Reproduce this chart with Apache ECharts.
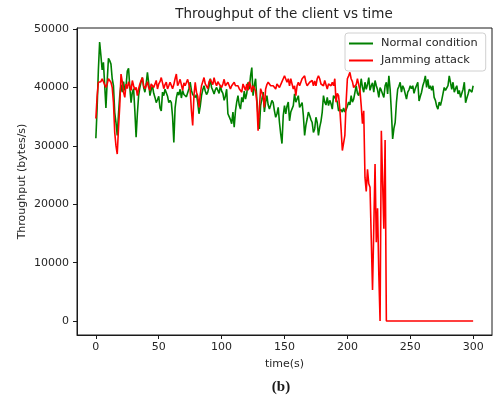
<!DOCTYPE html>
<html>
<head>
<meta charset="utf-8">
<script src="https://cdn.jsdelivr.net/npm/echarts@6/dist/echarts.min.js"></script>
<style>
  html, body { margin: 0; padding: 0; background: #fff; }
  #chart { width: 493px; height: 398px; }
</style>
</head>
<body>
<div id="chart"></div>
<script>
// Throughput samples, one per second from t = 0 to t = 300 (bytes/s)
const normalCondition = [
  31300, 36500, 43000, 47800, 45500, 43000, 44300, 40500, 36500, 41000,
  45000, 44600, 44000, 41500, 40300, 35700, 34000, 31800, 35500, 38600,
  40500, 39200, 41000, 39500, 40200, 42800, 43300, 40000, 37400, 39200,
  39800, 36000, 31500, 35500, 38600, 40000, 41000, 41700, 40000, 39200,
  40600, 42600, 40800, 38600, 39600, 40300, 39000, 38300, 37400, 37900,
  38500, 36500, 36000, 39200, 38600, 39700, 39700, 38500, 37400, 37800,
  37400, 35000, 30600, 36500, 38200, 39200, 38700, 39700, 38200, 39500,
  38800, 39000, 38400, 38600, 39800, 40900, 39500, 38800, 39000, 38300,
  38800, 37400, 35500, 36800, 38600, 39600, 40300, 39400, 38800, 39200,
  40200, 41500, 40000, 39500, 38900, 39600, 40000, 40300, 39000, 40300,
  39400, 39000, 37800, 38500, 39700, 35500, 35000, 34500, 33800, 35800,
  33200, 36000, 37500, 38600, 37000, 36300, 38300, 37500, 39400, 38000,
  39000, 40900, 39700, 42000, 43400, 38600, 40300, 41500, 38000, 35000,
  32900, 36900, 38000, 39200, 35800, 37500, 38600, 37000, 36300, 37000,
  37800, 37400, 36000, 34900, 35500, 36600, 34000, 32000, 30400, 35200,
  36900, 35500, 36800, 37500, 34300, 35800, 35700, 36900, 38900, 37500,
  37400, 38600, 36600, 37000, 37400, 35200, 31800, 33500, 34600, 35800,
  35200, 34500, 34000, 32300, 32900, 34900, 34000, 31800, 33200, 34200,
  35800, 38600, 37500, 37000, 38300, 36900, 37800, 37200, 36300, 38600,
  38900, 38000, 37500, 36000, 35900, 36200, 35800, 36500, 35800, 36200,
  36800, 37500, 37000, 38600, 37500, 38000, 38300, 40300, 39000, 38600,
  39700, 41500, 40000, 39200, 40900, 39700, 40500, 41700, 39500, 40300,
  40800, 39200, 41200, 40300, 39600, 38300, 40000, 39500, 39800, 38300,
  40300, 40900, 38900, 42000, 39700, 35800, 31200, 33000, 34000, 37400,
  39700, 40200, 40900, 39200, 40300, 39800, 39500, 38000, 39200, 39600,
  40300, 39800, 40300, 39000, 39800, 39500, 40900, 37700, 38500, 39200,
  40300, 41000, 42000, 40000, 41400, 39800, 40300, 39500, 40300, 38300,
  37800, 36800, 36300, 37500, 36900, 37800, 38900, 40000, 39500, 39500,
  40300, 42000, 41700, 39700, 40900, 39200, 39800, 40300, 38900, 39500,
  38300, 39000, 39700, 40900, 37400, 38200, 38900, 39700, 39500, 39200,
  40300
];

const jammingAttack = [
  34700, 38500, 40900, 41200, 41000, 41500, 41400, 40500, 40000, 40600,
  41500, 41200, 40900, 40000, 37400, 32300, 30000, 28600, 33000, 36900,
  42300, 41000, 39200, 38300, 40600, 39800, 41000, 40200, 39500, 41200,
  40300, 39600, 40000, 38600, 39800, 40600, 41200, 41700, 40300, 39800,
  40300, 41000, 40000, 39500, 40600, 40900, 40000, 40300, 41200, 39750,
  40600, 41000, 41700, 40800, 39800, 40500, 40900, 39750, 40300, 40900,
  41000, 39800, 40500, 41500, 42300, 40300, 40800, 41400, 40500, 39500,
  40800, 40300, 40600, 41400, 40500, 39500, 36000, 33500, 38600, 40900,
  39200, 38500, 36600, 38800, 40300, 41000, 41700, 40600, 40300, 39800,
  41000, 41400, 40900, 40500, 41700, 40800, 40300, 41000, 40600, 40900,
  40000, 40600, 41400, 40300, 40000, 40900, 40600, 39750, 40300, 40600,
  40900, 40300, 40000, 40300, 39800, 39500, 39200, 40600, 40300, 39500,
  40600, 39500, 41000, 40300, 39200, 40300, 40000, 39400, 37500, 32600,
  36300, 39800, 39750, 38500, 36600, 39750, 40500, 40900, 40600, 40300,
  40000, 40300, 40600, 39750, 40600, 40300, 40000, 40300, 41000, 41500,
  42000, 41460, 40900, 41500, 40300, 41500, 40600, 39750, 40300, 38600,
  40300, 40900, 40300, 40900, 41500, 41700, 42000, 40900, 40300, 40000,
  40900, 40600, 41200, 40300, 41100, 40300, 41500, 42000, 41500, 40600,
  40900, 40300, 41200, 40900, 39750, 40600, 40900, 40300, 40900, 40300,
  41500, 37500, 39000, 38600, 36300, 32900, 29200, 29000, 31800, 37500,
  41500, 42000, 42600, 41500, 41000, 40000, 39700, 40500, 41500, 40500,
  39500, 36900, 33800, 36000, 24600, 22200, 26000, 23500, 22900, 14000,
  5300, 16000, 26900, 13500, 19300, 8000, 0, 32600, 24000, 15800,
  31000, 0, 0, 0, 0, 0, 0, 0, 0, 0,
  0, 0, 0, 0, 0, 0, 0, 0, 0, 0,
  0, 0, 0, 0, 0, 0, 0, 0, 0, 0,
  0, 0, 0, 0, 0, 0, 0, 0, 0, 0,
  0, 0, 0, 0, 0, 0, 0, 0, 0, 0,
  0, 0, 0, 0, 0, 0, 0, 0, 0, 0,
  0, 0, 0, 0, 0, 0, 0, 0, 0, 0,
  0
];

const timeTicks = [0, 50, 100, 150, 200, 250, 300];
const throughputTicks = [0, 10000, 20000, 30000, 40000, 50000];

const seriesNames = ['Normal condition', 'Jamming attack'];
const seriesColors = ['#008000', '#ff0000'];

const toPoints = (values) => values.map((v, t) => [t, v]);

const chart = echarts.init(document.getElementById('chart'), null, { renderer: 'canvas' });

const textColor = '#262626';
const axisColor = '#1a1a1a';
const fontFamily = '"DejaVu Sans", sans-serif';
const plainNumber = (v) => String(v);

chart.setOption({
  animation: false,
  backgroundColor: '#ffffff',
  grid: {
    left: 77, right: 1, top: 28, bottom: 63,
    show: true, borderColor: axisColor, borderWidth: 1,
    backgroundColor: 'transparent'
  },
  xAxis: {
    type: 'value',
    min: -15, max: 315,
    name: 'time(s)',
    nameLocation: 'middle',
    nameGap: 24,
    nameTextStyle: { color: textColor, fontFamily, fontSize: 11 },
    axisLine: { show: true, onZero: false, lineStyle: { color: axisColor, width: 1 } },
    axisTick: { show: true, inside: false, length: 4, customValues: timeTicks, lineStyle: { color: axisColor } },
    axisLabel: { customValues: timeTicks, formatter: plainNumber, color: textColor, fontFamily, fontSize: 11, margin: 7 },
    splitLine: { show: false }
  },
  yAxis: {
    type: 'value',
    min: -2390, max: 50190,
    name: 'Throughput (bytes/s)',
    nameLocation: 'middle',
    nameGap: 49,
    nameMoveOverlap: false,
    nameTextStyle: { color: textColor, fontFamily, fontSize: 11 },
    axisLine: { show: true, onZero: false, lineStyle: { color: axisColor, width: 1 } },
    axisTick: { show: true, inside: false, length: 4, customValues: throughputTicks, lineStyle: { color: axisColor } },
    axisLabel: { customValues: throughputTicks, formatter: plainNumber, color: textColor, fontFamily, fontSize: 11, margin: 8 },
    splitLine: { show: false }
  },
  legend: {
    data: seriesNames,
    orient: 'vertical',
    left: 345, top: 33,
    icon: 'rect',
    itemWidth: 24, itemHeight: 2,
    itemGap: 4,
    padding: [4, 8, 4, 4],
    backgroundColor: 'rgba(255,255,255,0.85)',
    borderColor: '#d0d0d0', borderWidth: 1, borderRadius: 3,
    textStyle: { color: textColor, fontFamily, fontSize: 11.3, lineHeight: 13, padding: [0, 0, 0, 3] }
  },
  graphic: [
    {
      type: 'text',
      style: {
        text: 'Throughput of the client vs time',
        x: 284, y: 14,
        textAlign: 'center', textVerticalAlign: 'middle',
        fill: textColor,
        font: '13.5px "DejaVu Sans", sans-serif'
      }
    },
    {
      type: 'text',
      style: {
        text: '(b)',
        x: 281, y: 387,
        textAlign: 'center', textVerticalAlign: 'middle',
        fill: '#1a1a1a',
        font: 'bold 15px "Liberation Serif", serif'
      }
    }
  ],
  series: [
    {
      name: seriesNames[0],
      type: 'line',
      data: toPoints(normalCondition),
      showSymbol: false, symbol: 'none',
      color: seriesColors[0],
      lineStyle: { color: seriesColors[0], width: 1.6 },
      z: 2
    },
    {
      name: seriesNames[1],
      type: 'line',
      data: toPoints(jammingAttack),
      showSymbol: false, symbol: 'none',
      color: seriesColors[1],
      lineStyle: { color: seriesColors[1], width: 1.6 },
      z: 3
    }
  ]
});
</script>
</body>
</html>
